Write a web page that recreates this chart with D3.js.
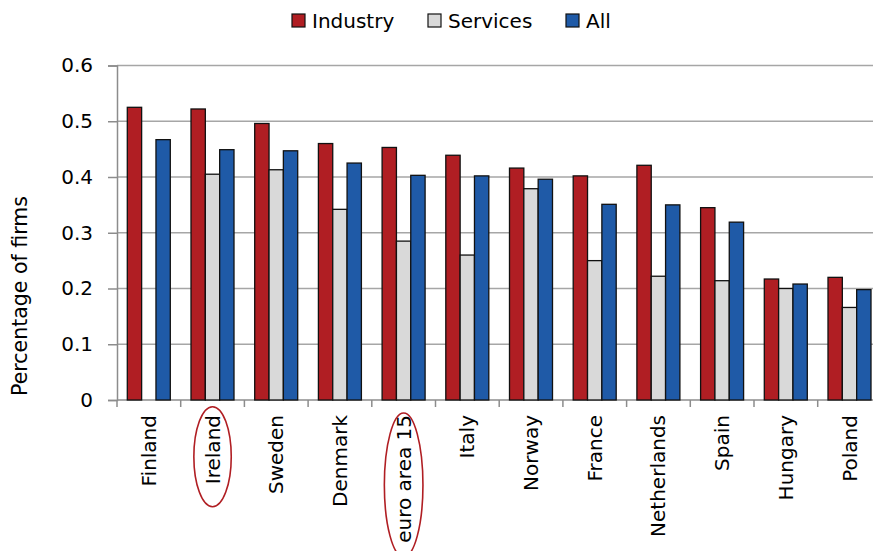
<!DOCTYPE html>
<html>
<head>
<meta charset="utf-8">
<script src="https://cdnjs.cloudflare.com/ajax/libs/d3/7.8.5/d3.min.js"></script>
<style>
  body { margin: 0; background: #fff; }
  svg { display: block; font-family: "DejaVu Sans", sans-serif; }
</style>
</head>
<body>
<div id="chart"></div>
<script>
'use strict'

// data
const countries = ['Finland', 'Ireland', 'Sweden', 'Denmark', 'euro area 15', 'Italy',
    'Norway', 'France', 'Netherlands', 'Spain', 'Hungary', 'Poland']
const series = ['Industry', 'Services', 'All']
const industry = [0.525, 0.522, 0.496, 0.460, 0.453, 0.439, 0.416, 0.402, 0.421, 0.345, 0.217, 0.220]
const services = [null, 0.405, 0.413, 0.342, 0.285, 0.260, 0.379, 0.250, 0.222, 0.214, 0.200, 0.166]
const all = [0.467, 0.449, 0.447, 0.425, 0.403, 0.402, 0.396, 0.351, 0.350, 0.319, 0.208, 0.198]
const yTicks = [0, 0.1, 0.2, 0.3, 0.4, 0.5, 0.6]

const colors = { Industry: '#B01E23', Services: '#D9D9D9', All: '#1F5AA7' }

const svgWidth = 873
const svgHeight = 551
const plotLeft = 117
const catW = 63.7
const plotTop = 65.5
const plotBottom = 400

const svg = d3.select('#chart')
    .append('svg')
    .attr('width', svgWidth)
    .attr('height', svgHeight)

////////// scales //////////
const x0 = d3.scaleBand()
    .domain(countries)
    .range([plotLeft, plotLeft + catW * countries.length])

const x1 = d3.scaleBand()
    .domain(series)
    .range([10.3, 53.3])

const y = d3.scaleLinear()
    .domain([0, 0.6])
    .range([plotBottom, plotTop])

////////// grid + axes //////////
svg.append('g')
    .selectAll('line')
    .data(yTicks.slice(1))
    .join('line')
    .attr('x1', plotLeft)
    .attr('x2', svgWidth)
    .attr('y1', d => y(d))
    .attr('y2', d => y(d))
    .attr('stroke', '#a6a6a6')
    .attr('stroke-width', 1.5)

const yAxis = d3.axisLeft(y)
    .tickValues(yTicks)
    .tickFormat(d => d === 0 ? '0' : d3.format('.1f')(d))
    .tickSize(9)
    .tickPadding(15)

const yg = svg.append('g')
    .attr('transform', `translate(${plotLeft},0)`)
    .call(yAxis)
yg.select('.domain').attr('stroke', '#8c8c8c').attr('stroke-width', 1.5)
yg.selectAll('line').attr('stroke', '#8c8c8c').attr('stroke-width', 1.5)
yg.selectAll('text')
    .attr('font-size', '20px')
    .attr('fill', '#000')
    .attr('font-family', '"DejaVu Sans", sans-serif')

// x axis: ticks at category boundaries
const bounds = countries.map(c => x0(c)).concat([x0.range()[1]])
svg.append('line')
    .attr('x1', plotLeft)
    .attr('x2', svgWidth)
    .attr('y1', plotBottom)
    .attr('y2', plotBottom)
    .attr('stroke', '#8c8c8c')
    .attr('stroke-width', 1.5)
svg.append('g')
    .selectAll('line')
    .data(bounds)
    .join('line')
    .attr('x1', d => d)
    .attr('x2', d => d)
    .attr('y1', plotBottom)
    .attr('y2', plotBottom + 7)
    .attr('stroke', '#8c8c8c')
    .attr('stroke-width', 1.5)

////////// bars //////////
const rows = countries.map((c, i) => ({
    country: c,
    values: [
        { key: 'Industry', value: industry[i] },
        { key: 'Services', value: services[i] },
        { key: 'All', value: all[i] }
    ]
}))

svg.append('g')
    .selectAll('g')
    .data(rows)
    .join('g')
    .attr('transform', d => `translate(${x0(d.country)},0)`)
    .selectAll('rect')
    .data(d => d.values.filter(v => v.value !== null))
    .join('rect')
    .attr('x', d => x1(d.key))
    .attr('width', x1.bandwidth())
    .attr('y', d => y(d.value))
    .attr('height', d => y(0) - y(d.value))
    .attr('fill', d => colors[d.key])
    .attr('stroke', '#111')
    .attr('stroke-width', 1.3)

////////// category labels //////////
svg.append('g')
    .selectAll('text')
    .data(countries)
    .join('text')
    .attr('transform', d => `translate(${x0(d) + x0.bandwidth() / 2 + 7},415) rotate(-90)`)
    .attr('text-anchor', 'end')
    .attr('font-size', '20px')
    .attr('fill', '#000')
    .text(d => d)

// red ellipses around highlighted labels
const ellipses = [
    { country: 'Ireland', cy: 456.7, rx: 18.7, ry: 50 },
    { country: 'euro area 15', cy: 485, rx: 19.3, ry: 72 }
]
svg.append('g')
    .selectAll('ellipse')
    .data(ellipses)
    .join('ellipse')
    .attr('cx', d => x0(d.country) + x0.bandwidth() / 2)
    .attr('cy', d => d.cy)
    .attr('rx', d => d.rx)
    .attr('ry', d => d.ry)
    .attr('fill', 'none')
    .attr('stroke', '#B01E23')
    .attr('stroke-width', 1.6)

////////// y title //////////
svg.append('text')
    .attr('transform', 'translate(27,296) rotate(-90)')
    .attr('text-anchor', 'middle')
    .attr('font-size', '20.5px')
    .attr('fill', '#000')
    .text('Percentage of firms')

////////// legend //////////
const legendX = [292, 428, 566]
const legend = svg.append('g')
    .selectAll('g')
    .data(series)
    .join('g')
    .attr('transform', (d, i) => `translate(${legendX[i]},14)`)
legend.append('rect')
    .attr('width', 13)
    .attr('height', 13)
    .attr('fill', d => colors[d])
    .attr('stroke', '#111')
    .attr('stroke-width', 1.2)
legend.append('text')
    .attr('x', 20)
    .attr('y', 14)
    .attr('font-size', '20px')
    .attr('fill', '#000')
    .text(d => d)
</script>
</body>
</html>
